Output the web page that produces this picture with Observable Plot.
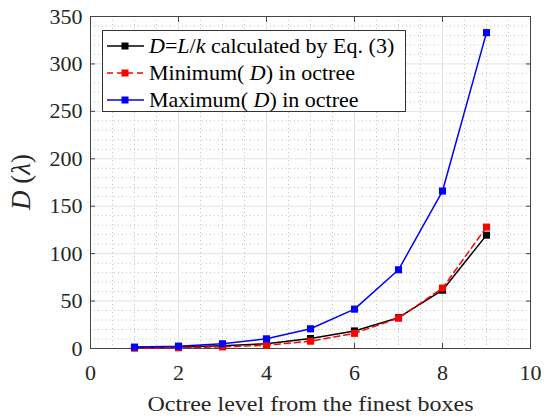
<!DOCTYPE html>
<html>
<head>
<meta charset="utf-8">
<script src="https://cdn.jsdelivr.net/npm/d3@7"></script>
<script src="https://cdn.jsdelivr.net/npm/@observablehq/plot@0.6"></script>
</head>
<body style="margin:0;padding:0;background:#fff">
<div id="wrap" style="position:relative;width:552px;height:418px;font-family:'Liberation Serif';"></div>
<script>
// ---- data ----
const levels = [1, 2, 3, 4, 5, 6, 7, 8, 9];
const dCalc = [1, 1.5, 3, 5, 10.5, 18.5, 32.5, 61.5, 119.5];
const dMin  = [0.4, 0.8, 1.7, 3.5, 7.7, 16, 32, 63.7, 128];
const dMax  = [1.5, 2.5, 5, 10.2, 20.8, 41.5, 83, 166, 333];
const seriesNames = ["D=L/k calculated by Eq. (3)", "Minimum(D) in octree", "Maximum(D) in octree"];
const seriesColors = ["#000000", "#ff0000", "#0000ff"];
const seriesDash = [null, "6,4", null];
const xTicks = [0, 2, 4, 6, 8, 10];
const yTicks = [0, 50, 100, 150, 200, 250, 300, 350];
const xMinor = [0.5, 1, 1.5, 2.5, 3, 3.5, 4.5, 5, 5.5, 6.5, 7, 7.5, 8.5, 9, 9.5];
const yMinor = [10, 20, 30, 40, 60, 70, 80, 90, 110, 120, 130, 140, 160, 170, 180, 190,
                210, 220, 230, 240, 260, 270, 280, 290, 310, 320, 330, 340];

const FONT = "Liberation Serif";
const seriesValues = [dCalc, dMin, dMax];
const table = seriesValues.flatMap((vals, s) => levels.map((lv, i) => ({level: lv, value: vals[i], s})));

const lineMarks = seriesValues.flatMap((vals, s) => {
  const d = table.filter(r => r.s === s);
  return [
    Plot.line(d, {x: "level", y: "value", stroke: seriesColors[s], strokeWidth: 1.5, strokeDasharray: seriesDash[s]}),
    Plot.dot(d, {x: "level", y: "value", symbol: "square", r: 4, fill: seriesColors[s], stroke: "none"})
  ];
});

const axisStyle = {stroke: "#444"};
const chart = Plot.plot({
  width: 552,
  height: 418,
  marginLeft: 90,
  marginRight: 22,
  marginTop: 16,
  marginBottom: 70,
  style: {fontFamily: FONT, fontSize: "22px", background: "#fff"},
  x: {domain: [0, 10]},
  y: {domain: [0, 350]},
  marks: [
    Plot.ruleX(xMinor, {stroke: "#c4c4c4", strokeDasharray: "1,3", strokeWidth: 1}),
    Plot.ruleY(yMinor, {stroke: "#c4c4c4", strokeDasharray: "1,3", strokeWidth: 1}),
    Plot.ruleX(xTicks, {stroke: "#e2e2e2", strokeWidth: 1}),
    Plot.ruleY(yTicks, {stroke: "#e2e2e2", strokeWidth: 1}),
    Plot.frame({stroke: "#444", strokeWidth: 1}),
    Plot.axisX({anchor: "bottom", ticks: xTicks, tickSize: -5, tickPadding: 21, label: "Octree level from the finest boxes", labelAnchor: "center", labelOffset: 62, labelArrow: "none", fill: "#262626", ...axisStyle}),
    Plot.axisX({anchor: "top", ticks: xTicks, tickSize: -5, tickFormat: () => "", label: null, ...axisStyle}),
    Plot.axisY({anchor: "left", ticks: yTicks, tickSize: -5, tickPadding: 13, label: null, fill: "#262626", ...axisStyle}),
    Plot.axisY({anchor: "right", ticks: yTicks, tickSize: -5, tickFormat: () => "", label: null, ...axisStyle}),
    ...lineMarks
  ]
});

const wrap = document.getElementById("wrap");
wrap.appendChild(chart);

const svg = d3.select(chart);
svg.style("font-family", FONT);
svg.selectAll("g, text").attr("font-family", FONT);
// x-axis label: slightly wider, like the reference
svg.selectAll("text").filter(function() { return this.textContent === "Octree level from the finest boxes"; })
  .attr("font-size", 22).attr("textLength", 326).attr("lengthAdjust", "spacingAndGlyphs");

// y-axis label with italic parts
const yl = svg.append("text")
  .attr("transform", "translate(30,182) rotate(-90)")
  .attr("text-anchor", "middle")
  .attr("font-family", FONT)
  .attr("font-size", 27)
  .attr("fill", "#262626");
yl.append("tspan").attr("font-style", "italic").text("D");
yl.append("tspan").text(" (");
yl.append("tspan").attr("font-style", "italic").text("λ");
yl.append("tspan").text(")");

// legend
const legend = document.createElement("div");
legend.setAttribute("style", "position:absolute;left:102px;top:30px;width:304px;height:82px;border:1px solid #333;background:#fff;box-sizing:border-box;font-size:22px;color:#000;font-family:'Liberation Serif';");
const rowTops = [2, 29, 56];
const labelsHTML = [
  "<i>D</i>=<i>L</i>/<i>k</i> calculated by Eq. (3)",
  "Minimum( <i>D</i>) in octree",
  "Maximum( <i>D</i>) in octree"
];
seriesNames.forEach((name, s) => {
  const row = document.createElement("div");
  row.setAttribute("style", `position:absolute;left:0;top:${rowTops[s]}px;height:26px;display:flex;align-items:center;white-space:nowrap;font-family:'Liberation Serif';`);
  const dash = seriesDash[s] ? `stroke-dasharray="${seriesDash[s]}"` : "";
  row.innerHTML = `<svg width="37" height="12" style="margin-left:4px;margin-right:5px"><line x1="0" x2="37" y1="6" y2="6" stroke="${seriesColors[s]}" stroke-width="1.5" ${dash}/><rect x="14.5" y="2.5" width="7" height="7" fill="${seriesColors[s]}"/></svg><span title="${name}">${labelsHTML[s]}</span>`;
  legend.appendChild(row);
});
wrap.appendChild(legend);
</script>
</body>
</html>
